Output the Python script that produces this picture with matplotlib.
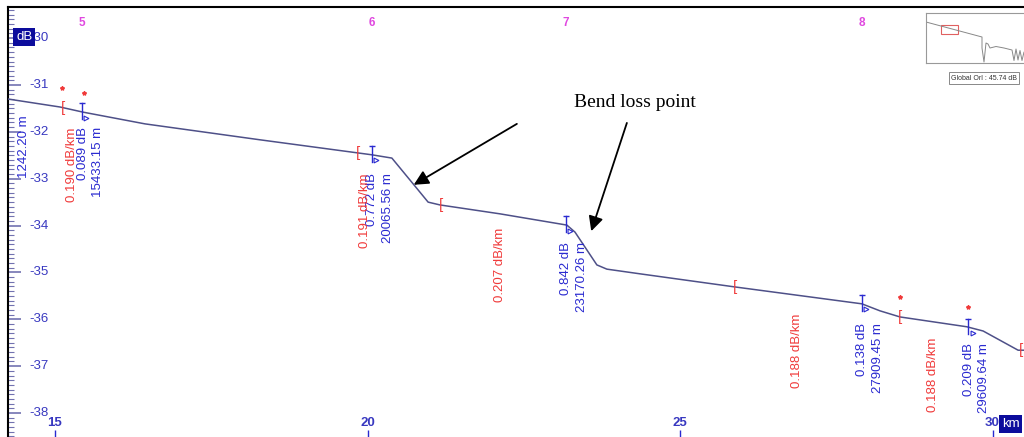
import numpy as np
import matplotlib.pyplot as plt
import matplotlib.patches as patches

# OTDR trace (km, dB)
trace_km = [14.25, 15.08, 15.45, 16.44, 18.28, 20.07, 20.39, 20.73, 20.97, 21.16,
            22.12, 23.19, 23.32, 23.67, 23.83, 24.36, 25.88, 27.91, 28.20, 28.52,
            29.59, 29.85, 30.41, 30.50]
trace_db = [-31.30, -31.47, -31.58, -31.83, -32.17, -32.49, -32.56, -33.11, -33.50, -33.56,
            -33.75, -33.99, -34.14, -34.84, -34.93, -35.03, -35.31, -35.67, -35.82, -35.95,
            -36.16, -36.25, -36.66, -36.66]

# events
event_num = ['5', '6', '7', '8', '']
event_km = [15.433, 20.066, 23.170, 27.909, 29.610]
event_loss = ['0.089 dB', '0.772 dB', '0.842 dB', '0.138 dB', '0.209 dB']
event_dist = ['15433.15 m', '20065.56 m', '23170.26 m', '27909.45 m', '29609.64 m']

# section slopes
slope_txt = ['0.190 dB/km', '0.191 dB/km', '0.207 dB/km', '0.188 dB/km', '0.188 dB/km']
slope_km = [15.27, 19.96, 22.12, 26.87, 29.05]

bracket_km = [15.13, 19.85, 21.18, 25.88, 28.52, 30.46]
star_km = [15.11, 15.46, 28.52, 29.61]

y_ticks = [-38, -37, -36, -35, -34, -33, -32, -31, -30]
x_ticks = [15, 20, 25, 30]

# inset overview
inset_x = [0.0, 0.56, 0.56, 0.58, 0.60, 0.62, 0.64, 0.70, 0.78, 0.86, 0.88, 0.90, 0.92, 0.94, 0.96, 0.98, 1.0]
inset_y = [0.82, 0.52, 0.30, 0.02, 0.40, 0.38, 0.30, 0.33, 0.30, 0.26, 0.05, 0.28, 0.06, 0.25, 0.05, 0.22, 0.10]

BLUE = '#2a2ad0'
RED = '#f03a3a'
MAG = '#e048e0'
TRACE = '#4e5088'
TICK = '#7272b0'

plt.rcParams['font.family'] = ['Liberation Sans', 'DejaVu Sans']

fig = plt.figure(figsize=(10.24, 4.37), dpi=100)
ax = fig.add_axes([8 / 1024, 0, 1016 / 1024, 430 / 437])
ax.set_xlim(14.248, 30.504)
ax.set_ylim(-38.512, -29.336)

for s in ['right', 'bottom']:
    ax.spines[s].set_visible(False)
ax.spines['top'].set_linewidth(1.5)
ax.spines['left'].set_linewidth(1.5)

ax.set_yticks(y_ticks)
ax.set_yticks(np.arange(-38.5, -29.3, 0.1), minor=True)
ax.tick_params(axis='y', which='major', direction='in', length=9, width=1.2, color=TICK, labelleft=False)
ax.tick_params(axis='y', which='minor', direction='in', length=4.5, width=0.8, color=TICK)
ax.set_xticks(x_ticks)
ax.tick_params(axis='x', which='major', direction='in', length=5, width=1, color=BLUE, labelbottom=False)
ax.tick_params(axis='x', which='minor', bottom=False)

for v in y_ticks:
    ax.text(0.0404, v, str(v), transform=ax.get_yaxis_transform(), ha='right', va='center',
            fontsize=9.5, color='#3838c0')
for v in x_ticks:
    ax.text(v, 0.033, str(v), transform=ax.get_xaxis_transform(), ha='center', va='center',
            fontsize=9.5, color='#3838c0', fontweight='bold')

# dB / km boxes
ax.text(0.008, 0.93, 'dB', transform=ax.transAxes, ha='left', va='center', fontsize=9.5,
        color='white', bbox=dict(boxstyle='square,pad=0.2', facecolor='#0c0c9c', edgecolor='none'),
        zorder=5)
ax.text(0.978, 0.03, 'km', transform=ax.transAxes, ha='left', va='center', fontsize=9.5,
        color='white', bbox=dict(boxstyle='square,pad=0.2', facecolor='#0c0c9c', edgecolor='none'),
        zorder=5)

ax.plot(trace_km, trace_db, color=TRACE, lw=1.1, zorder=3)

# event markers and labels
ev_db = np.interp(event_km, trace_km, trace_db)
label_top = [-31.90, -32.88, -34.35, -36.08, -36.50]
for i, (k, y) in enumerate(zip(event_km, ev_db)):
    ax.plot([k, k], [y + 0.18, y - 0.15], color=BLUE, lw=1, zorder=4)
    ax.plot(k, y + 0.18, marker='_', ms=5, color=BLUE, zorder=4)
    ax.plot(k + 0.07, y - 0.12, marker='>', ms=3.5, mfc='none', mec=BLUE, mew=0.8, zorder=4)
    ax.text(k + 0.01, label_top[i], event_loss[i], rotation=90, ha='center', va='top',
            fontsize=9.5, color=BLUE)
    ax.text(k + 0.26, label_top[i], event_dist[i], rotation=90, ha='center', va='top',
            fontsize=9.5, color=BLUE)
    if event_num[i]:
        ax.text(k, 0.962, event_num[i], transform=ax.get_xaxis_transform(), ha='center',
                va='center', fontsize=8.5, color=MAG, fontweight='bold')

slope_top = [-31.90, -32.88, -34.05, -35.87, -36.40]
for k, t, top in zip(slope_km, slope_txt, slope_top):
    ax.text(k, top, t, rotation=90, ha='center', va='top', fontsize=9.5, color=RED)

ax.text(14.51, -31.65, '1242.20 m', rotation=90, ha='center', va='top', fontsize=9.5, color=BLUE)

br_db = np.interp(bracket_km, trace_km, trace_db)
for k, y in zip(bracket_km, br_db):
    ax.text(k, y, '[', ha='center', va='center', fontsize=11, color=RED, zorder=4)
st_db = np.interp(star_km, trace_km, trace_db)
ax.plot(star_km, st_db + 0.42, ls='none', marker='*', ms=3, color=RED, zorder=4)

# annotation
ax.text(24.28, -31.38, 'Bend loss point', ha='center', va='center', fontsize=14,
        family='Liberation Serif', color='black')
arrow = dict(arrowstyle='-|>', color='black', lw=1.3, mutation_scale=22, shrinkA=0, shrinkB=0)
ax.annotate('', xy=(20.74, -33.13), xytext=(22.39, -31.83), arrowprops=arrow)
ax.annotate('', xy=(23.58, -34.12), xytext=(24.15, -31.81), arrowprops=arrow)

# overview inset
ins = fig.add_axes([926 / 1024, 1 - 63 / 437, 100 / 1024, 50 / 437])
ins.set_xlim(0, 1)
ins.set_ylim(0, 1)
ins.set_xticks([])
ins.set_yticks([])
for s in ins.spines.values():
    s.set_color('#999999')
    s.set_linewidth(0.8)
ins.plot(inset_x, inset_y, color='#888888', lw=0.7)
ins.add_patch(patches.Rectangle((0.15, 0.58), 0.17, 0.18, fill=False, ec='#e06060', lw=0.8))
fig.text(951 / 1024, 1 - 78 / 437, 'Global Orl : 45.74 dB', ha='left', va='center', fontsize=5,
         color='#333333', bbox=dict(boxstyle='square,pad=0.3', facecolor='white', edgecolor='#888888', lw=0.7))

fig.savefig('out.png', dpi=100)
